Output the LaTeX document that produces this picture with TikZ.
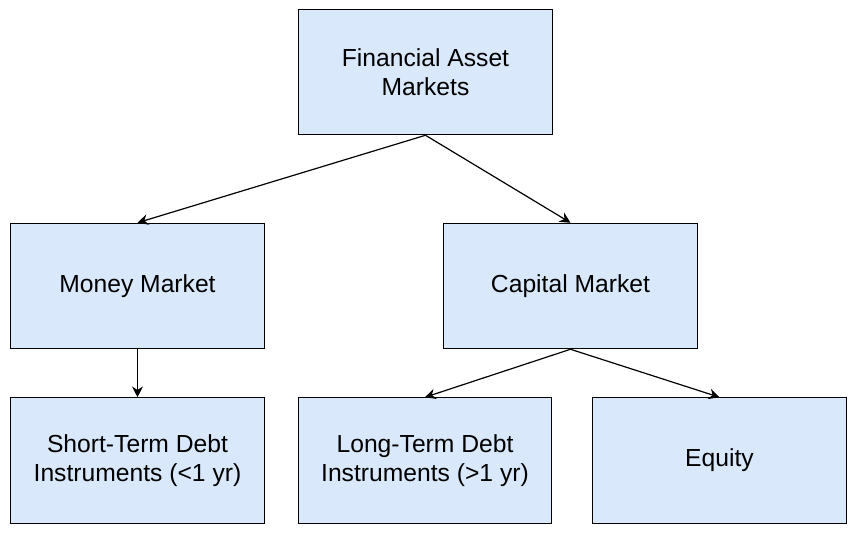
\documentclass[tikz,border=0pt]{standalone}
\usepackage{fontspec}
\setmainfont{Liberation Sans}
\usetikzlibrary{arrows.meta}
\definecolor{boxfill}{HTML}{DAE8FC}
\tikzset{every picture/.style={line width=0.9pt}}
\tikzset{box/.style={draw=black,fill=boxfill,minimum width=190pt,minimum height=94pt,align=center,inner sep=0pt,font=\fontsize{18.5}{22}\selectfont},
  link/.style={-{Stealth[length=8pt,width=8pt]}}}
\begin{document}
\begin{tikzpicture}[x=0.75pt,y=0.75pt,yscale=-1,xscale=1]
\useasboundingbox (0,0) rectangle (858,536);

% boxes
\node [box] (top) at (425.5,72) {Financial Asset\\Markets};
\node [box] (money) at (137.5,286) {Money Market};
\node [box] (capital) at (570.5,286) {Capital Market};
\node [box] (short) at (137.5,460.5) {Short-Term Debt\\Instruments (<1 yr)};
\node [box] (long) at (425,460.5) {Long-Term Debt\\Instruments (>1 yr)};
\node [box] (equity) at (719.5,460.5) {Equity};

% links
\draw [link] (top.south) -- (money.north);
\draw [link] (top.south) -- (capital.north);
\draw [link] (money.south) -- (short.north);
\draw [link] (capital.south) -- (long.north);
\draw [link] (capital.south) -- (equity.north);

\end{tikzpicture}
\end{document}
